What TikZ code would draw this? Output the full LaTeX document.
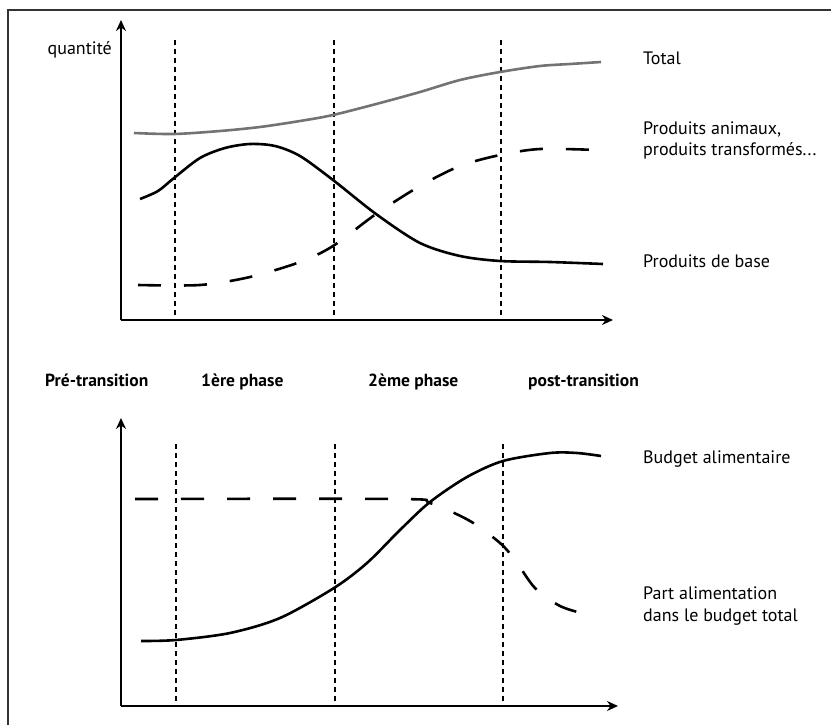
\documentclass[tikz,border=0pt]{standalone}
\usepackage{fontspec}
\setmainfont{PT Sans}
\usetikzlibrary{arrows.meta, positioning}

\begin{document}
\begin{tikzpicture}[
            x = 1pt, y = -1pt,
            > = {Stealth[length=11pt, width=10pt]},
            font = \fontsize{18}{21.5}\selectfont
        ]

        \tikzstyle{axe}=[draw = black, line width = 1.6pt, ->]
        \tikzstyle{limite}=[draw = black, line width = 1.1pt, dash pattern = on 5pt off 4pt]
        \tikzstyle{courbe}=[draw = black, line width = 2.6pt]
        \tikzstyle{tirets}=[courbe, dash pattern = on 23pt off 23pt]
        \tikzstyle{legende}=[anchor = base west, inner sep = 0pt, align = left]
        \tikzstyle{phase}=[anchor = base west, inner sep = 0pt, font = \fontsize{17.5}{21}\selectfont\bfseries]

        \useasboundingbox (0,0) rectangle (831,725);
        \draw[line width = 1.3pt, black!80] (8,725) -- (8,10) -- (831,10);

        % quantites
        \coordinate (o1) at (121,320);
        \coordinate (y1) at (121,20);
        \coordinate (x1) at (613,320);
        \draw[axe] (o1) -- (y1);
        \draw[axe] (o1) -- (x1);
        \node[legende, anchor = base east] (quantite) at (112,55) {quantité};

        \foreach \xx in {175, 334, 501}
            \draw[limite] (\xx,40) -- (\xx,319);

        \draw[courbe, draw = black!55] plot[smooth] coordinates {(134,133) (174,134) (220,131) (260,127) (300,121) (333,115) (380,103) (420,92) (460,80) (500,72) (540,66) (570,64) (601,62)};
        \draw[courbe] plot[smooth] coordinates {(140,199) (158,191) (174,178) (200,158) (225,148) (250,144) (275,146) (300,156) (333,180) (376,214) (420,243) (460,256) (500,261) (550,262) (603,264)};
        \draw[tirets] plot[smooth] coordinates {(138,285) (200,285) (250,277) (300,262) (333,246) (376,214) (420,186) (460,166) (500,155) (540,149) (597,150)};

        \node[legende] (total) at (643,65) {Total};
        \node[legende] (animaux) at (643,156) {Produits animaux,\\produits transformés...};
        \node[legende] (base) at (643,267) {Produits de base};

        % phases
        \node[phase] (pre) at (45,386) {Pré-transition};
        \node[phase] (phase1) at (201,386) {1ère phase};
        \node[phase] (phase2) at (368,386) {2ème phase};
        \node[phase] (post) at (528,386) {post-transition};

        % budget
        \coordinate (o2) at (121,706);
        \coordinate (y2) at (121,418);
        \coordinate (x2) at (618,706);
        \draw[axe] (o2) -- (y2);
        \draw[axe] (o2) -- (x2);

        \foreach \xx in {176, 335, 503}
            \draw[limite] (\xx,444) -- (\xx,705);

        \draw[courbe] plot[smooth] coordinates {(141,641) (176,640) (230,633) (280,618) (334,588) (367,563) (400,530) (430,502) (467,477) (503,461) (550,453) (577,453) (601,456)};
        \draw[tirets] plot[smooth] coordinates {(135,499) (400,499) (430,503) (470,521) (500,543) (515,560) (535,588) (560,606) (585,614)};

        \node[legende] (budget) at (643,463) {Budget alimentaire};
        \node[legende] (part) at (643,621) {Part alimentation\\dans le budget total};

    \end{tikzpicture}
\end{document}
